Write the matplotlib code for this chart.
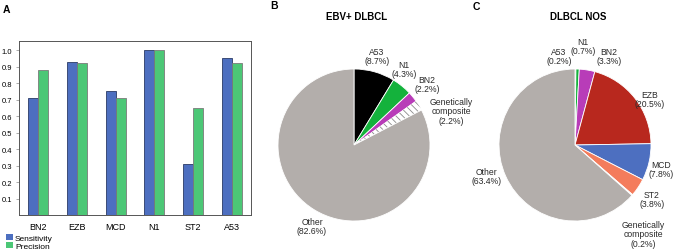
import numpy as np
import matplotlib
matplotlib.use('Agg')
import matplotlib.pyplot as plt
import matplotlib.patches as mpatches

plt.rcParams['font.family'] = ['Liberation Sans', 'DejaVu Sans']
plt.rcParams['hatch.linewidth'] = 0.6

# panel A data
subtypes = ['BN2', 'EZB', 'MCD', 'N1', 'ST2', 'A53']
sensitivity = [0.71, 0.93, 0.75, 1.00, 0.31, 0.95]
precision = [0.88, 0.92, 0.71, 1.00, 0.65, 0.92]
yticks = [0.1, 0.2, 0.3, 0.4, 0.5, 0.6, 0.7, 0.8, 0.9, 1.0]

# panel B data
ebv_labels = ['A53', 'N1', 'BN2', 'Genetically\ncomposite', 'Other']
ebv_pct = [8.7, 4.3, 2.2, 2.2, 82.6]

# panel C data
nos_labels = ['A53', 'N1', 'BN2', 'EZB', 'MCD', 'ST2', 'Genetically\ncomposite', 'Other']
nos_pct = [0.2, 0.7, 3.3, 20.5, 7.8, 3.8, 0.2, 63.4]

W, H = 674, 251
BLUE = '#4d6fc0'
GREEN = '#4cc776'
GREY = '#b3aeab'
colors = {'A53': '#000000', 'N1': '#14b23c', 'BN2': '#b83cb8', 'EZB': '#b8281e',
          'MCD': '#4d6fc0', 'ST2': '#f47c5c', 'Genetically\ncomposite': '#ffffff',
          'Other': GREY}


def px_box(x0, y0, x1, y1):
    """pixel box (top-left origin) -> figure fraction rect"""
    return [x0 / W, 1 - y1 / H, (x1 - x0) / W, (y1 - y0) / H]


def ftext(x, y, s, **kw):
    fig.text(x / W, 1 - y / H, s, **kw)


fig = plt.figure(figsize=(W / 100, H / 100), dpi=100)

# ---- A: bar chart
ax = fig.add_axes(px_box(19, 42, 251, 216))
x = np.arange(len(subtypes))
bw = 0.26
ax.bar(x - bw / 2, sensitivity, bw, color=BLUE, edgecolor='#2b3a66', linewidth=0.6)
ax.bar(x + bw / 2, precision, bw, color=GREEN, edgecolor='#7a7a7a', linewidth=0.6)
ax.set_xlim(-0.5, len(subtypes) - 0.5)
ax.set_ylim(0, 1.055)
ax.set_yticks(yticks)
ax.set_yticklabels([f'{v:.1f}' for v in yticks])
ax.set_xticks(x)
ax.set_xticklabels(subtypes)
ax.tick_params(axis='y', length=2, width=0.5, direction='out', labelsize=5.5, pad=3,
               color='#888888')
ax.tick_params(axis='x', length=0, labelsize=6.5, pad=5)
for sp in ax.spines.values():
    sp.set_linewidth(0.7)
    sp.set_color('#555555')

handles = [mpatches.Patch(facecolor=BLUE, edgecolor='none', label='Sensitivity'),
           mpatches.Patch(facecolor=GREEN, edgecolor='none', label='Precision')]
fig.legend(handles=handles, loc='lower left', bbox_to_anchor=(0.005, -0.01),
           frameon=False, fontsize=6, handlelength=0.8, handleheight=0.8,
           handletextpad=0.3, labelspacing=0.0, borderaxespad=0.2, borderpad=0.1)

ftext(3, 10, 'A', fontsize=7.5, fontweight='bold', va='center')
ftext(270, 6, 'B', fontsize=7.5, fontweight='bold', va='center')
ftext(473, 7, 'C', fontsize=7.5, fontweight='bold', va='center')


def draw_pie(cx, cy, r, labels, pct, title, tx):
    axp = fig.add_axes(px_box(cx - r - 2, cy - r - 2, cx + r + 2, cy + r + 2))
    wedges, _ = axp.pie(pct, colors=[colors[l] for l in labels], startangle=90,
                        counterclock=False,
                        wedgeprops=dict(edgecolor='white', linewidth=0.6))
    axp.set_xlim(-1 - 2 / r, 1 + 2 / r)
    axp.set_ylim(-1 - 2 / r, 1 + 2 / r)
    axp.set_aspect('auto')
    ftext(tx, 17, title, fontsize=7, fontweight='bold', ha='center', va='center')
    return wedges


wb = draw_pie(354, 146, 76, ebv_labels, ebv_pct, 'EBV+ DLBCL', 357)
wb[3].set_hatch('\\\\\\\\\\')
wb[3].set_edgecolor('#8a8a8a')
wb[3].set_linewidth(0)

wc = draw_pie(575, 146, 76, nos_labels, nos_pct, 'DLBCL NOS', 578)
wc[6].set_facecolor('#f2eee8')

lab = dict(fontsize=6.2, ha='center', va='center', linespacing=1.1, color='#2a2a2a')
# B labels
b_pos = [(377, 57), (404, 70), (427, 85), (451, 112), (312, 227)]
for l, p, (px, py) in zip(ebv_labels, ebv_pct, b_pos):
    ftext(px, py, f'{l}\n({p}%)', **lab)

# C labels
c_pos = [(559, 57), (583, 47), (609, 57), (650, 100), (661, 170), (652, 200),
         (643, 235), (487, 177)]
for l, p, (px, py) in zip(nos_labels, nos_pct, c_pos):
    ftext(px, py, f'{l}\n({p}%)', **lab)

fig.savefig('out.png', dpi=100)
